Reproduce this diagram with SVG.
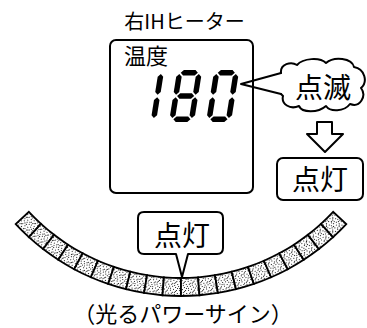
<svg xmlns="http://www.w3.org/2000/svg" xmlns:xlink="http://www.w3.org/1999/xlink" width="367" height="328" viewBox="0 0 367 328">
<style>
  .t { font-family: "Noto Sans CJK JP", "Noto Sans", sans-serif; fill: #000; }
  .ln { fill: none; stroke: #000; stroke-width: 2; stroke-linejoin: round; stroke-linecap: round; }
  .box { fill: #fff; stroke: #000; stroke-width: 2; stroke-linejoin: round; }
  .cell { fill: url(#speckle); stroke: #000; stroke-width: 1.8; stroke-linejoin: miter; }
  .seg { fill: #000; }
</style>
<defs>
  <pattern id="speckle" patternUnits="userSpaceOnUse" width="9" height="9">
    <rect width="9" height="9" fill="#fff"/>
    <rect x="0" y="0" width="1" height="1" fill="#222"/>
    <rect x="3" y="1" width="1" height="1" fill="#222"/>
    <rect x="6" y="0" width="1" height="1" fill="#222"/>
    <rect x="1" y="3" width="1" height="1" fill="#222"/>
    <rect x="5" y="2" width="1" height="1" fill="#222"/>
    <rect x="7" y="4" width="1" height="1" fill="#222"/>
    <rect x="3" y="5" width="1" height="1" fill="#222"/>
    <rect x="0" y="6" width="1" height="1" fill="#222"/>
    <rect x="5" y="7" width="1" height="1" fill="#222"/>
    <rect x="8" y="7" width="1" height="1" fill="#222"/>
    <rect x="2" y="8" width="1" height="1" fill="#222"/>
    <rect x="4" y="4" width="1" height="1" fill="#222"/>
    <rect x="7" y="2" width="1" height="1" fill="#222"/>
    <rect x="2" y="6" width="1" height="1" fill="#222"/>
  </pattern>
  <path id="cell" class="cell" d="M -8.528,207.825 A 208 208 0 0 0 8.528,207.825 L 9.266,225.81 A 226 226 0 0 1 -9.266,225.81 Z"/>
  <polygon id="sa" class="seg" points="3.95,2.75 6.7,0 18.3,0 21.05,2.75 18.3,5.5 6.7,5.5"/>
  <polygon id="sg" class="seg" points="3.95,26 6.7,23.25 18.3,23.25 21.05,26 18.3,28.75 6.7,28.75"/>
  <polygon id="sd" class="seg" points="3.95,49.25 6.7,46.5 18.3,46.5 21.05,49.25 18.3,52 6.7,52"/>
  <polygon id="sf" class="seg" points="2.75,3.95 5.5,6.7 5.5,22.05 2.75,24.8 0,22.05 0,6.7"/>
  <polygon id="se" class="seg" points="2.75,27.2 5.5,29.95 5.5,45.3 2.75,48.05 0,45.3 0,29.95"/>
  <polygon id="sb" class="seg" points="22.25,3.95 25,6.7 25,22.05 22.25,24.8 19.5,22.05 19.5,6.7"/>
  <polygon id="sc" class="seg" points="22.25,27.2 25,29.95 25,45.3 22.25,48.05 19.5,45.3 19.5,29.95"/>
</defs>

<g id="title">
  <text class="t" x="184.5" y="29" font-size="20" text-anchor="middle">右IHヒーター</text>
</g>

<g id="display">
  <rect class="box" x="110" y="40" width="143" height="153" rx="6"/>
  <text class="t" x="124" y="64" font-size="22">温度</text>
  <g id="digit-1" transform="translate(131,122) skewX(-9) translate(0,-52)">
    <use xlink:href="#sb"/><use xlink:href="#sc"/>
  </g>
  <g id="digit-8" transform="translate(169,122) skewX(-9) translate(0,-52)">
    <use xlink:href="#sa"/><use xlink:href="#sb"/><use xlink:href="#sc"/><use xlink:href="#sd"/><use xlink:href="#se"/><use xlink:href="#sf"/><use xlink:href="#sg"/>
  </g>
  <g id="digit-0" transform="translate(206,122) skewX(-9) translate(0,-52)">
    <use xlink:href="#sa"/><use xlink:href="#sb"/><use xlink:href="#sc"/><use xlink:href="#sd"/><use xlink:href="#se"/><use xlink:href="#sf"/>
  </g>
</g>

<g id="blink-callout">
  <path fill="#fff" stroke="none" d="M 281,73 C 280,64 291,61 297,65 C 303,58 320,57 326,63 C 334,56 352,58 354,67 C 365,69 368,82 361,88 C 367,96 360,108 350,104 C 344,112 330,112 326,106 C 318,113 302,113 299,106 C 290,110 281,104 283,96 L 281,94 Z"/>
  <path class="ln" d="M 281,73 C 280,64 291,61 297,65 C 303,58 320,57 326,63 C 334,56 352,58 354,67 C 365,69 368,82 361,88 C 367,96 360,108 350,104 C 344,112 330,112 326,106 C 318,113 302,113 299,106 C 290,110 281,104 283,96 L 281,94"/>
  <path class="ln" stroke-width="1.6" d="M 281,73 L 241,84 L 281,94"/>
  <text class="t" x="323" y="98" font-size="28" text-anchor="middle">点滅</text>
</g>

<g id="connectors">
  <path class="box" d="M 317,122 L 332,122 L 332,134 L 343,134 L 325,152 L 307,134 L 317,134 Z"/>
</g>

<g id="lit-box">
  <rect class="box" x="277" y="158" width="86" height="42" rx="6"/>
  <text class="t" x="320" y="190" font-size="28" text-anchor="middle">点灯</text>
</g>

<g id="power-sign">
  <use xlink:href="#cell" transform="translate(181,70) rotate(44.65)"/>
  <use xlink:href="#cell" transform="translate(181,70) rotate(39.95)"/>
  <use xlink:href="#cell" transform="translate(181,70) rotate(35.25)"/>
  <use xlink:href="#cell" transform="translate(181,70) rotate(30.55)"/>
  <use xlink:href="#cell" transform="translate(181,70) rotate(25.85)"/>
  <use xlink:href="#cell" transform="translate(181,70) rotate(21.15)"/>
  <use xlink:href="#cell" transform="translate(181,70) rotate(16.45)"/>
  <use xlink:href="#cell" transform="translate(181,70) rotate(11.75)"/>
  <use xlink:href="#cell" transform="translate(181,70) rotate(7.05)"/>
  <use xlink:href="#cell" transform="translate(181,70) rotate(2.35)"/>
  <use xlink:href="#cell" transform="translate(181,70) rotate(-2.35)"/>
  <use xlink:href="#cell" transform="translate(181,70) rotate(-7.05)"/>
  <use xlink:href="#cell" transform="translate(181,70) rotate(-11.75)"/>
  <use xlink:href="#cell" transform="translate(181,70) rotate(-16.45)"/>
  <use xlink:href="#cell" transform="translate(181,70) rotate(-21.15)"/>
  <use xlink:href="#cell" transform="translate(181,70) rotate(-25.85)"/>
  <use xlink:href="#cell" transform="translate(181,70) rotate(-30.55)"/>
  <use xlink:href="#cell" transform="translate(181,70) rotate(-35.25)"/>
  <use xlink:href="#cell" transform="translate(181,70) rotate(-39.95)"/>
  <use xlink:href="#cell" transform="translate(181,70) rotate(-44.65)"/>
</g>

<g id="lit-callout">
  <path class="box" d="M 144,212 H 217 Q 223,212 223,218 V 248 Q 223,254 217,254 H 188 L 182,277 L 176,254 H 144 Q 138,254 138,248 V 218 Q 138,212 144,212 Z"/>
  <text class="t" x="182" y="246" font-size="28" text-anchor="middle">点灯</text>
</g>

<g id="caption">
  <text class="t" x="183" y="322" font-size="22" text-anchor="middle">（光るパワーサイン）</text>
</g>
</svg>
